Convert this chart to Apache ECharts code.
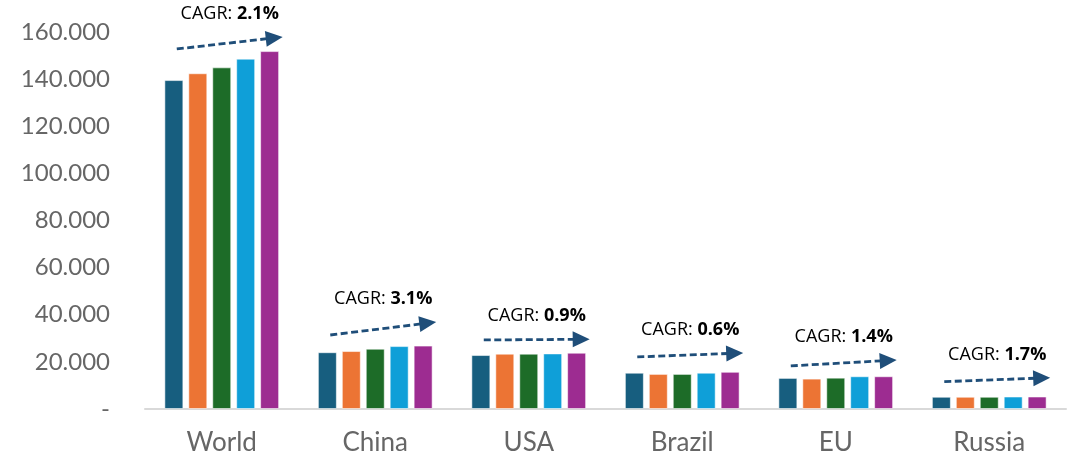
<!DOCTYPE html>
<html>
<head>
<meta charset="utf-8">
<script src="https://cdn.jsdelivr.net/npm/echarts@6/dist/echarts.min.js"></script>
<style>html,body{margin:0;padding:0;background:#fff}#c{width:1076px;height:458px}</style>
</head>
<body>
<div id="c"></div>
<script>
const categories = ['World', 'China', 'USA', 'Brazil', 'EU', 'Russia'];
const series1 = [139600, 24100, 22900, 15400, 13200, 5200];
const series2 = [142500, 24600, 23500, 14900, 12900, 5200];
const series3 = [145000, 25600, 23500, 14900, 13300, 5200];
const series4 = [148700, 26700, 23600, 15400, 13900, 5300];
const series5 = [151900, 26900, 23900, 15800, 13900, 5300];
const cagrLabels = ['2.1%', '3.1%', '0.9%', '0.6%', '1.4%', '1.7%'];
const arrowStart = [152800, 31400, 29300, 22100, 18300, 11600];
const arrowEnd = [157900, 36900, 29600, 23800, 20800, 13300];
const yTicks = [0, 20000, 40000, 60000, 80000, 100000, 120000, 140000, 160000];

const colors = ['#175E7F', '#EC7434', '#1D6C28', '#0F9FD8', '#9D2C91'];
const seriesData = [series1, series2, series3, series4, series5];

const barSeries = seriesData.map((d, i) => ({
  type: 'bar',
  data: d,
  barWidth: 19,
  barGap: '26%',
  itemStyle: { color: colors[i], borderColor: 'rgba(255,255,255,0.55)', borderWidth: 1 },
  silent: true
}));

const annData = categories.map((c, i) => [i, arrowStart[i], arrowEnd[i], cagrLabels[i]]);

const annSeries = {
  type: 'custom',
  data: annData,
  encode: { x: 0, y: [1, 2] },
  silent: true,
  z: 10,
  renderItem: function (params, api) {
    const idx = api.value(0);
    const band = api.size([1, 0])[0];
    const p0 = api.coord([idx, api.value(1)]);
    const p1 = api.coord([idx, api.value(2)]);
    const cx = p0[0];
    const x1 = cx - 0.293 * band, y1 = p0[1];
    const tx = cx + 0.397 * band, ty = p1[1];
    const dx = tx - x1, dy = ty - y1;
    const len = Math.sqrt(dx * dx + dy * dy);
    const ux = dx / len, uy = dy / len;
    const hl = 17, hw = 8;
    const bx = tx - ux * hl, by = ty - uy * hl;
    const nx = -uy, ny = ux;
    const label = cagrLabels[params.dataIndex];
    return {
      type: 'group',
      children: [
        { type: 'line', shape: { x1: x1, y1: y1, x2: bx + ux * 2, y2: by + uy * 2 },
          style: { stroke: '#1F4E79', lineWidth: 2.8, lineDash: [7, 3.5] } },
        { type: 'polygon', shape: { points: [[tx, ty], [bx + nx * hw, by + ny * hw], [bx - nx * hw, by - ny * hw]] },
          style: { fill: '#1F4E79' } },
        { type: 'text', x: cx + 0.052 * band, y: ty - 23,
          style: {
            text: '{n|CAGR: }{b|' + label + '}',
            align: 'center', verticalAlign: 'middle',
            rich: {
              n: { fontFamily: 'Open Sans', fontSize: 18, fill: '#000' },
              b: { fontFamily: 'Open Sans', fontSize: 18, fontWeight: 'bold', fill: '#000' }
            }
          } }
      ]
    };
  }
};

const chart = echarts.init(document.getElementById('c'));
chart.setOption({
  animation: false,
  grid: { left: 145, right: 10, top: 32, bottom: 49 },
  xAxis: {
    type: 'category',
    data: categories,
    axisLine: { lineStyle: { color: '#D9D9D9', width: 2 } },
    axisTick: { show: false },
    axisLabel: { color: '#666666', fontSize: 26, fontFamily: 'Lato', margin: 21 }
  },
  yAxis: {
    type: 'value',
    min: 0, max: 160000, interval: 20000,
    splitLine: { show: false },
    axisLine: { show: false },
    axisTick: { show: false },
    axisLabel: {
      color: '#666666', fontSize: 24, fontFamily: 'Lato', margin: 35,
      formatter: function (v) {
        if (v === 0) return '-';
        return String(v).replace(/\B(?=(\d{3})+(?!\d))/g, '.');
      }
    }
  },
  series: barSeries.concat([annSeries])
});
</script>
</body>
</html>
